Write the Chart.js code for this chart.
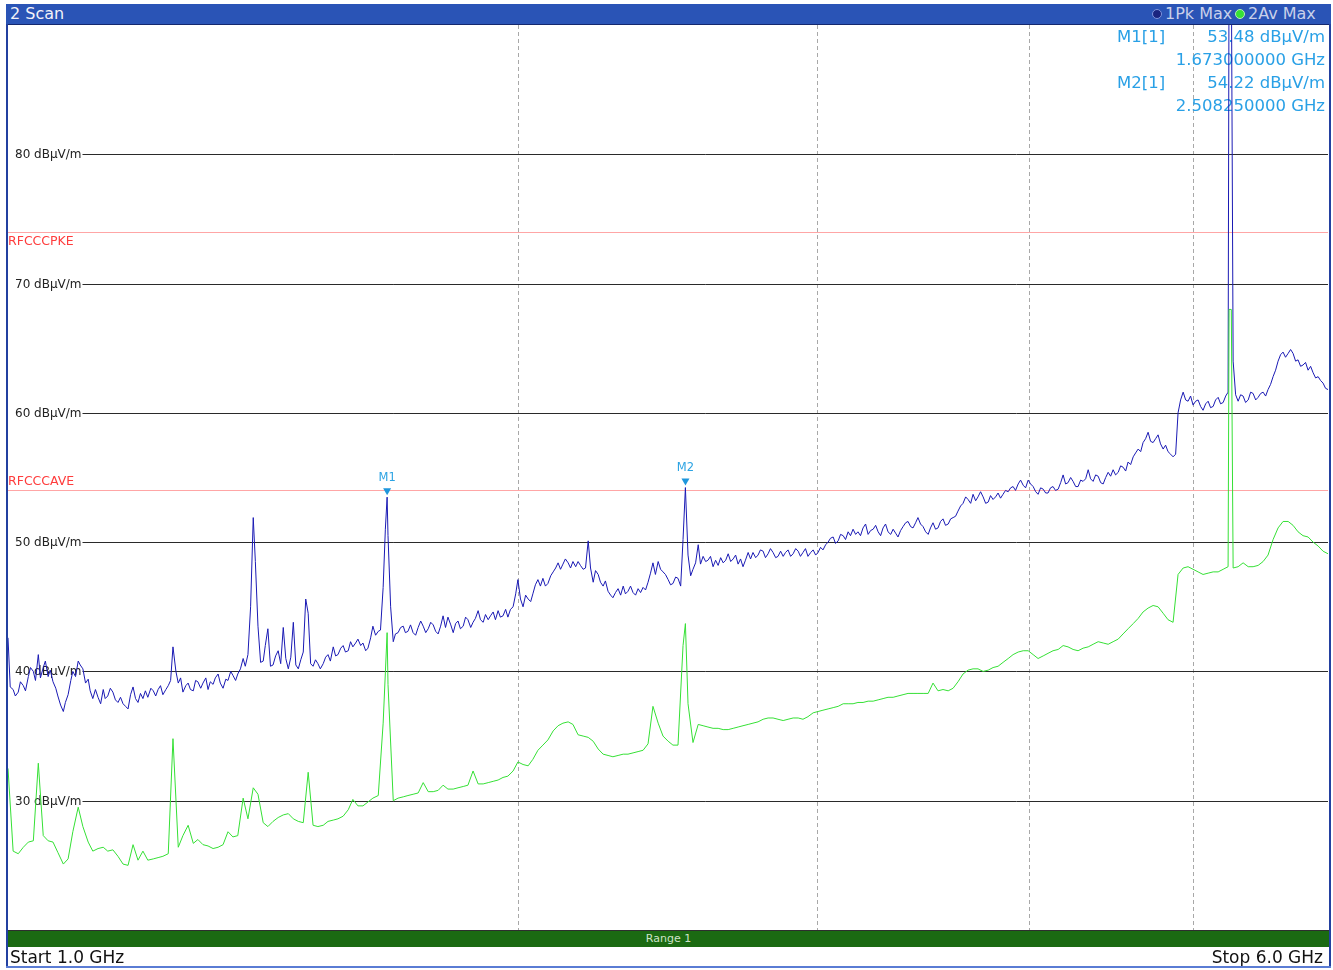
<!DOCTYPE html>
<html>
<head>
<meta charset="utf-8">
<title>2 Scan</title>
<script src="https://cdn.jsdelivr.net/npm/chart.js@4.4.1/dist/chart.umd.min.js"></script>
<style>
  body { margin: 0; width: 1333px; height: 970px; position: relative; overflow: hidden; background: #fff;
         font-family: "DejaVu Sans", Verdana, sans-serif; }
  .abs { position: absolute; }
  #header { left: 6px; top: 4px; width: 1325px; height: 20px; background: #2a54b6; border-bottom: 1px solid #14286e; }
  .hdrText { top: 4px; height: 20px; line-height: 20px; white-space: nowrap; font-size: 16px; }
  .dot { top: 9px; width: 8px; height: 8px; border-radius: 50%; }
  #rangeBar { left: 8px; top: 930px; width: 1321px; height: 16px; background: #1b6a12; border-top: 1px solid #2e2e2e;
              color: #cfe3c9; font-size: 11px; line-height: 16px; text-align: center; }
  .foot { top: 948px; line-height: 18px; font-size: 17px; color: #111; white-space: nowrap; }
</style>
</head>
<body>
<canvas id="scanChart" class="abs" width="1333" height="970" style="left:0;top:0"></canvas>

<div class="abs" id="header"></div>
<div class="abs hdrText" style="left:10px;color:#f2f2f8">2 Scan</div>
<div class="abs dot" style="left:1152px;background:#1a2480;border:1px solid #7f95dd"></div>
<div class="abs hdrText" style="left:1165px;color:#c9d0ea">1Pk Max</div>
<div class="abs dot" style="left:1235px;background:#36e036;border:1px solid #b8eeb8"></div>
<div class="abs hdrText" style="left:1248px;color:#c9d0ea">2Av Max</div>

<div class="abs" style="left:6px;top:24px;width:2px;height:944px;background:#2340a0"></div>
<div class="abs" style="left:1329px;top:24px;width:2px;height:944px;background:#2340a0"></div>
<div class="abs" id="rangeBar">Range 1</div>
<div class="abs foot" style="left:10px">Start 1.0 GHz</div>
<div class="abs foot" style="right:10px">Stop 6.0 GHz</div>
<div class="abs" style="left:6px;top:966px;width:1325px;height:2px;background:#5a7cd4"></div>

<script>
// trace 1 (1Pk Max): sweep points in GHz and levels in dBuV/m
const pkFreqGHz = [
  1.000, 1.003, 1.007, 1.010, 1.014, 1.017, 1.021, 1.024, 1.028, 1.031, 1.035, 1.038, 1.042, 1.045, 1.049, 1.052, 1.056, 1.059, 1.063, 1.067,
  1.070, 1.074, 1.078, 1.081, 1.085, 1.089, 1.092, 1.096, 1.100, 1.103, 1.107, 1.111, 1.115, 1.118, 1.122, 1.126, 1.130, 1.134, 1.138, 1.141,
  1.145, 1.149, 1.153, 1.157, 1.161, 1.165, 1.169, 1.173, 1.177, 1.181, 1.185, 1.189, 1.193, 1.197, 1.201, 1.205, 1.209, 1.214, 1.218, 1.222,
  1.226, 1.230, 1.234, 1.239, 1.243, 1.247, 1.251, 1.256, 1.260, 1.264, 1.268, 1.273, 1.277, 1.281, 1.286, 1.290, 1.294, 1.299, 1.303, 1.308,
  1.312, 1.316, 1.321, 1.325, 1.330, 1.334, 1.339, 1.344, 1.348, 1.353, 1.357, 1.362, 1.366, 1.371, 1.376, 1.380, 1.385, 1.390, 1.395, 1.399,
  1.404, 1.409, 1.414, 1.418, 1.423, 1.428, 1.433, 1.438, 1.443, 1.448, 1.453, 1.458, 1.463, 1.468, 1.473, 1.478, 1.483, 1.488, 1.493, 1.498,
  1.503, 1.508, 1.513, 1.518, 1.523, 1.528, 1.534, 1.539, 1.544, 1.549, 1.555, 1.560, 1.565, 1.571, 1.576, 1.581, 1.587, 1.592, 1.597, 1.603,
  1.608, 1.614, 1.619, 1.625, 1.630, 1.636, 1.641, 1.647, 1.653, 1.658, 1.664, 1.669, 1.673, 1.675, 1.681, 1.687, 1.692, 1.698, 1.704, 1.710, 1.715,
  1.721, 1.727, 1.733, 1.739, 1.745, 1.751, 1.757, 1.763, 1.769, 1.775, 1.781, 1.787, 1.793, 1.799, 1.805, 1.811, 1.817, 1.824, 1.830, 1.836,
  1.842, 1.848, 1.855, 1.861, 1.867, 1.874, 1.880, 1.886, 1.893, 1.899, 1.906, 1.912, 1.919, 1.925, 1.932, 1.938, 1.945, 1.951, 1.958, 1.965,
  1.971, 1.978, 1.985, 1.992, 1.998, 2.005, 2.012, 2.019, 2.026, 2.033, 2.039, 2.046, 2.053, 2.060, 2.067, 2.074, 2.081, 2.089, 2.096, 2.103,
  2.110, 2.117, 2.124, 2.131, 2.139, 2.146, 2.153, 2.161, 2.168, 2.175, 2.183, 2.190, 2.198, 2.205, 2.213, 2.220, 2.228, 2.235, 2.243, 2.250,
  2.258, 2.266, 2.273, 2.281, 2.289, 2.297, 2.305, 2.312, 2.320, 2.328, 2.336, 2.344, 2.352, 2.360, 2.368, 2.376, 2.384, 2.392, 2.400, 2.408,
  2.417, 2.425, 2.433, 2.441, 2.450, 2.458, 2.466, 2.475, 2.483, 2.492, 2.500, 2.508, 2.517, 2.526, 2.534, 2.543, 2.552, 2.560, 2.569, 2.578,
  2.586, 2.595, 2.604, 2.613, 2.622, 2.631, 2.640, 2.649, 2.658, 2.667, 2.676, 2.685, 2.694, 2.703, 2.712, 2.721, 2.731, 2.740, 2.749, 2.759,
  2.768, 2.777, 2.787, 2.796, 2.806, 2.815, 2.825, 2.835, 2.844, 2.854, 2.864, 2.873, 2.883, 2.893, 2.903, 2.913, 2.923, 2.932, 2.942, 2.952,
  2.962, 2.973, 2.983, 2.993, 3.003, 3.013, 3.023, 3.034, 3.044, 3.054, 3.065, 3.075, 3.086, 3.096, 3.107, 3.117, 3.128, 3.138, 3.149, 3.160,
  3.170, 3.181, 3.192, 3.203, 3.214, 3.225, 3.236, 3.247, 3.258, 3.269, 3.280, 3.291, 3.302, 3.314, 3.325, 3.336, 3.347, 3.359, 3.370, 3.382,
  3.393, 3.405, 3.416, 3.428, 3.439, 3.451, 3.463, 3.475, 3.487, 3.498, 3.510, 3.522, 3.534, 3.546, 3.558, 3.570, 3.583, 3.595, 3.607, 3.619,
  3.631, 3.644, 3.656, 3.669, 3.681, 3.694, 3.706, 3.719, 3.731, 3.744, 3.757, 3.770, 3.783, 3.795, 3.808, 3.821, 3.834, 3.847, 3.860, 3.873,
  3.887, 3.900, 3.913, 3.926, 3.940, 3.953, 3.967, 3.980, 3.994, 4.007, 4.021, 4.035, 4.048, 4.062, 4.076, 4.090, 4.103, 4.117, 4.131, 4.145,
  4.160, 4.174, 4.188, 4.202, 4.216, 4.231, 4.245, 4.260, 4.274, 4.289, 4.303, 4.318, 4.333, 4.347, 4.362, 4.377, 4.392, 4.407, 4.422, 4.437,
  4.452, 4.467, 4.482, 4.497, 4.513, 4.528, 4.543, 4.559, 4.574, 4.590, 4.606, 4.621, 4.637, 4.653, 4.668, 4.684, 4.700, 4.716, 4.732, 4.748,
  4.764, 4.780, 4.797, 4.813, 4.829, 4.846, 4.862, 4.879, 4.895, 4.912, 4.929, 4.946, 4.962, 4.979, 4.996, 5.013, 5.030, 5.047, 5.064, 5.082,
  5.099, 5.116, 5.134, 5.151, 5.169, 5.186, 5.204, 5.222, 5.239, 5.246, 5.262, 5.275, 5.293, 5.311, 5.329, 5.347, 5.365, 5.384, 5.402, 5.420, 5.439,
  5.457, 5.476, 5.494, 5.513, 5.531, 5.550, 5.569, 5.588, 5.607, 5.626, 5.645, 5.664, 5.684, 5.703, 5.722, 5.742, 5.761, 5.781, 5.800, 5.820,
  5.840, 5.860, 5.880, 5.900, 5.920, 5.940, 5.960, 5.980, 6.000
];
const pkMax = [
  42.6, 38.8, 38.6, 38.1, 38.4, 39.2, 38.9, 38.5, 39.6, 40.3, 40.0, 39.3, 41.3, 39.5, 40.3, 40.8, 39.6, 40.1, 39.2, 38.7,
  38.1, 37.4, 36.9, 37.6, 38.2, 39.3, 40.0, 39.6, 40.8, 40.5, 40.2, 39.1, 39.4, 38.5, 37.9, 38.6, 38.0, 37.5, 38.6, 37.9,
  38.1, 38.7, 38.4, 37.8, 37.6, 38.0, 37.5, 37.3, 37.1, 38.2, 38.8, 37.9, 37.6, 38.3, 37.9, 38.5, 38.0, 38.7, 38.5, 38.1,
  38.6, 38.9, 38.2, 38.6, 38.9, 39.3, 41.9, 40.0, 39.1, 39.5, 38.4, 38.9, 39.1, 38.6, 38.5, 39.3, 39.2, 38.7, 39.1, 39.5,
  38.6, 39.2, 39.0, 39.5, 39.8, 39.1, 38.7, 39.4, 39.3, 40.0, 39.7, 39.3, 39.8, 40.2, 41.0, 40.4, 41.3, 45.0, 51.9, 48.5,
  43.5, 40.7, 40.8, 42.0, 43.3, 40.4, 40.5, 41.2, 41.6, 40.6, 43.4, 41.0, 40.2, 41.1, 43.8, 40.5, 40.2, 40.9, 41.5, 45.6,
  44.5, 40.6, 40.4, 40.9, 40.6, 40.2, 40.6, 41.1, 41.3, 40.8, 41.9, 41.2, 41.3, 41.8, 42.0, 41.5, 41.6, 42.3, 41.9, 42.2,
  42.5, 42.0, 42.2, 41.6, 41.8, 42.6, 43.5, 42.8, 43.1, 43.2, 46.5, 51.0, 53.48, 50.5, 45.0, 42.3, 42.9, 43.0, 43.4, 43.5, 43.0,
  43.1, 43.6, 43.0, 42.8, 43.4, 43.9, 43.5, 43.0, 43.3, 43.8, 43.6, 43.1, 42.9, 43.5, 44.3, 43.4, 44.2, 43.6, 43.0, 43.7,
  43.9, 43.3, 43.5, 44.2, 44.0, 43.4, 43.8, 44.1, 44.7, 44.0, 43.8, 44.4, 44.0, 44.3, 44.6, 44.0, 44.7, 44.2, 44.3, 44.8,
  44.2, 44.8, 45.0, 46.0, 47.1, 45.6, 45.0, 45.9, 45.6, 45.4, 46.0, 46.7, 47.1, 46.6, 47.2, 46.6, 46.8, 47.4, 47.7, 48.0,
  48.4, 47.9, 48.3, 48.7, 48.4, 48.0, 48.5, 48.1, 48.5, 48.2, 47.9, 48.0, 50.1, 48.0, 46.9, 47.8, 47.5, 46.9, 46.6, 47.0,
  46.2, 45.9, 45.7, 46.1, 46.4, 45.9, 46.6, 46.0, 46.2, 46.6, 46.1, 45.9, 46.4, 46.1, 46.5, 46.3, 46.9, 47.6, 48.4, 47.5,
  48.5, 47.9, 47.7, 47.5, 47.1, 46.7, 46.8, 47.3, 47.2, 46.6, 50.2, 54.22, 49.0, 47.4, 47.9, 48.4, 49.8, 48.3, 48.9, 48.5,
  48.6, 48.9, 48.1, 48.6, 48.2, 48.8, 48.4, 48.6, 49.1, 48.5, 48.7, 49.0, 48.3, 48.7, 48.1, 48.6, 49.2, 48.7, 49.2, 48.8,
  49.0, 49.4, 49.3, 48.8, 49.1, 49.5, 49.2, 48.8, 48.9, 49.3, 48.9, 49.2, 49.4, 48.9, 49.1, 49.5, 49.3, 48.9, 49.2, 49.5,
  48.9, 49.2, 49.4, 49.0, 49.2, 49.6, 49.4, 49.8, 50.0, 50.3, 50.4, 49.9, 50.1, 50.6, 50.5, 50.2, 50.8, 50.5, 51.0, 50.6,
  50.8, 50.5, 51.1, 51.4, 50.6, 50.9, 51.0, 51.3, 50.8, 50.5, 51.1, 51.4, 50.8, 50.6, 51.0, 50.7, 50.4, 50.9, 51.2, 51.5,
  51.6, 51.2, 51.1, 51.5, 51.9, 51.4, 51.2, 50.8, 50.6, 51.1, 51.5, 51.0, 51.1, 51.6, 51.8, 51.3, 51.4, 51.8, 51.9, 52.0,
  52.4, 52.8, 53.0, 53.5, 53.3, 53.0, 53.7, 53.2, 53.5, 53.9, 53.5, 53.0, 53.1, 53.6, 53.3, 53.5, 53.8, 53.4, 53.7, 54.0,
  53.9, 54.2, 54.3, 54.0, 54.5, 54.8, 54.4, 54.2, 54.8, 54.5, 54.3, 53.9, 53.7, 54.2, 54.1, 53.8, 53.8, 54.2, 54.3, 54.0,
  54.1, 54.6, 55.2, 54.5, 54.6, 55.0, 54.7, 54.3, 54.3, 54.8, 54.7, 54.9, 55.6, 54.9, 54.7, 55.2, 55.1, 54.6, 54.5, 55.0,
  55.4, 55.1, 55.6, 55.2, 55.4, 55.9, 55.8, 55.5, 56.2, 56.0, 56.6, 56.9, 57.2, 57.0, 57.7, 58.0, 58.5, 57.8, 57.7, 58.0,
  58.3, 57.6, 57.2, 57.5, 57.0, 56.8, 56.6, 56.8, 60.0, 61.0, 61.6, 61.0, 60.9, 61.3, 60.6, 60.9, 61.0, 60.5, 60.2, 60.7,
  60.9, 60.4, 60.5, 61.0, 61.2, 60.7, 60.8, 61.3, 61.6, 95.0, 95.0, 64.0, 61.4, 60.9, 61.4, 61.3, 60.8, 61.0, 61.6, 61.5, 61.0,
  61.2, 61.5, 61.6, 61.3, 61.8, 62.2, 62.8, 63.3, 64.0, 64.5, 64.7, 64.3, 64.6, 64.9, 64.6, 64.0, 64.1, 63.6, 63.7, 63.9,
  63.3, 63.6, 63.1, 62.7, 62.8, 62.5, 62.3, 61.9, 61.8
];

// trace 2 (2Av Max): sweep points in GHz and levels in dBuV/m
const avFreqGHz = [
  1.000, 1.007, 1.014, 1.021, 1.028, 1.035, 1.042, 1.049, 1.056, 1.063,
  1.070, 1.078, 1.085, 1.092, 1.100, 1.107, 1.115, 1.122, 1.130, 1.138,
  1.145, 1.153, 1.161, 1.169, 1.177, 1.185, 1.193, 1.201, 1.209, 1.218,
  1.226, 1.234, 1.243, 1.251, 1.260, 1.268, 1.277, 1.286, 1.294, 1.303,
  1.312, 1.321, 1.330, 1.339, 1.348, 1.357, 1.366, 1.376, 1.385, 1.395,
  1.404, 1.414, 1.423, 1.433, 1.443, 1.453, 1.463, 1.473, 1.483, 1.493,
  1.503, 1.513, 1.523, 1.534, 1.544, 1.555, 1.565, 1.576, 1.587, 1.597,
  1.608, 1.619, 1.630, 1.641, 1.653, 1.664, 1.673, 1.675, 1.687, 1.698, 1.710,
  1.721, 1.733, 1.745, 1.757, 1.769, 1.781, 1.793, 1.805, 1.817, 1.830,
  1.842, 1.855, 1.867, 1.880, 1.893, 1.906, 1.919, 1.932, 1.945, 1.958,
  1.971, 1.985, 1.998, 2.012, 2.026, 2.039, 2.053, 2.067, 2.081, 2.096,
  2.110, 2.124, 2.139, 2.153, 2.168, 2.183, 2.198, 2.213, 2.228, 2.243,
  2.258, 2.273, 2.289, 2.305, 2.320, 2.336, 2.352, 2.368, 2.384, 2.400,
  2.417, 2.433, 2.450, 2.466, 2.483, 2.500, 2.508, 2.517, 2.534, 2.552, 2.569,
  2.586, 2.604, 2.622, 2.640, 2.658, 2.676, 2.694, 2.712, 2.731, 2.749,
  2.768, 2.787, 2.806, 2.825, 2.844, 2.864, 2.883, 2.903, 2.923, 2.942,
  2.962, 2.983, 3.003, 3.023, 3.044, 3.065, 3.086, 3.107, 3.128, 3.149,
  3.170, 3.192, 3.214, 3.236, 3.258, 3.280, 3.302, 3.325, 3.347, 3.370,
  3.393, 3.416, 3.439, 3.463, 3.487, 3.510, 3.534, 3.558, 3.583, 3.607,
  3.631, 3.656, 3.681, 3.706, 3.731, 3.757, 3.783, 3.808, 3.834, 3.860,
  3.887, 3.913, 3.940, 3.967, 3.994, 4.021, 4.048, 4.076, 4.103, 4.131,
  4.160, 4.188, 4.216, 4.245, 4.274, 4.303, 4.333, 4.362, 4.392, 4.422,
  4.452, 4.482, 4.513, 4.543, 4.574, 4.606, 4.637, 4.668, 4.700, 4.732,
  4.764, 4.797, 4.829, 4.862, 4.895, 4.929, 4.962, 4.996, 5.030, 5.064,
  5.099, 5.134, 5.169, 5.204, 5.239, 5.246, 5.262, 5.275, 5.311, 5.347, 5.384, 5.420,
  5.457, 5.494, 5.531, 5.569, 5.607, 5.645, 5.684, 5.722, 5.761, 5.800,
  5.840, 5.880, 5.920, 5.960, 6.000
];
const avMax = [
  32.5, 26.1, 25.9, 26.4, 26.8, 26.9, 32.9, 27.3, 26.9, 26.8,
  26.0, 25.1, 25.5, 27.6, 29.5, 28.0, 26.8, 26.1, 26.3, 26.4,
  26.1, 26.2, 25.7, 25.1, 25.0, 26.6, 25.4, 26.1, 25.4, 25.5,
  25.6, 25.7, 25.9, 34.8, 26.4, 27.3, 28.1, 26.7, 27.0, 26.6,
  26.5, 26.3, 26.4, 26.6, 27.6, 27.2, 27.3, 30.2, 28.6, 31.0,
  30.5, 28.3, 28.0, 28.4, 28.7, 28.9, 29.0, 28.6, 28.4, 28.3,
  32.2, 28.1, 28.0, 28.1, 28.4, 28.5, 28.6, 28.8, 29.3, 30.1,
  29.6, 29.6, 29.9, 30.2, 30.4, 36.0, 43.0, 39.0, 30.0, 30.2, 30.3,
  30.4, 30.5, 30.6, 31.4, 30.7, 30.7, 30.8, 31.2, 30.9, 30.9,
  31.0, 31.1, 31.2, 32.3, 31.3, 31.3, 31.4, 31.5, 31.6, 31.8,
  31.9, 32.3, 33.0, 32.8, 32.7, 33.2, 33.9, 34.3, 34.7, 35.4,
  35.8, 36.0, 36.1, 35.9, 35.1, 35.0, 34.9, 34.6, 34.0, 33.6,
  33.5, 33.4, 33.5, 33.6, 33.6, 33.7, 33.8, 33.9, 34.4, 37.3,
  36.0, 35.0, 34.6, 34.3, 34.3, 42.0, 43.7, 37.5, 34.5, 35.9, 35.8,
  35.7, 35.6, 35.6, 35.5, 35.5, 35.6, 35.7, 35.8, 35.9, 36.0,
  36.1, 36.3, 36.4, 36.4, 36.3, 36.2, 36.3, 36.4, 36.4, 36.3,
  36.5, 36.8, 36.9, 37.0, 37.1, 37.2, 37.3, 37.5, 37.5, 37.5,
  37.6, 37.6, 37.7, 37.7, 37.8, 37.9, 38.0, 38.0, 38.1, 38.2,
  38.3, 38.3, 38.3, 38.3, 38.3, 39.1, 38.5, 38.6, 38.5, 38.7,
  39.2, 39.8, 40.1, 40.2, 40.2, 40.0, 40.1, 40.3, 40.4, 40.7,
  41.0, 41.3, 41.5, 41.6, 41.6, 41.3, 41.0, 41.2, 41.4, 41.6,
  41.7, 42.0, 41.9, 41.7, 41.6, 41.8, 41.9, 42.1, 42.3, 42.2,
  42.1, 42.3, 42.5, 42.9, 43.3, 43.7, 44.1, 44.6, 44.9, 45.1,
  45.0, 44.5, 44.0, 43.8, 47.5, 48.0, 48.1, 47.9, 47.7, 47.5,
  47.6, 47.7, 47.7, 47.9, 48.1, 68.0, 68.0, 48.0, 48.1, 48.4, 48.1, 48.1,
  48.2, 48.5, 49.0, 50.2, 51.1, 51.6, 51.6, 51.3, 50.8, 50.5,
  50.4, 50.0, 49.7, 49.3, 49.1
];

// axis ticks
const freqGrid = [2, 3, 4, 5];               // GHz, dashed lines
const levelTicks = [30, 40, 50, 60, 70, 80]; // dBuV/m, labelled lines

// limit lines
const limitNames = ['RFCCCPKE', 'RFCCCAVE'];
const limitLevels = [74, 54];

// markers (on trace 1)
const markerNames = ['M1', 'M2'];
const markerFreq = [1.673, 2.50825];
const markerLevel = [53.48, 54.22];

const overlay = {
  id: 'overlay',
  beforeDatasetsDraw(chart) {
    const { ctx, chartArea: a, scales: { y } } = chart;
    ctx.save();
    ctx.textBaseline = 'middle';

    // level lines with their labels
    ctx.font = '12px "DejaVu Sans"';
    ctx.lineWidth = 1;
    levelTicks.forEach(v => {
      const py = Math.round(y.getPixelForValue(v)) + 0.5;
      const label = v + ' dBµV/m';
      const w = ctx.measureText(label).width;
      ctx.fillStyle = '#222';
      ctx.fillText(label, a.left + 7, py);
      ctx.strokeStyle = '#2a2a2a';
      ctx.beginPath();
      ctx.moveTo(a.left + 8 + w, py);
      ctx.lineTo(a.right, py);
      ctx.stroke();
    });

    // limit lines: first label below its line, second above
    ctx.font = '12.5px "DejaVu Sans"';
    limitLevels.forEach((v, i) => {
      const py = Math.round(y.getPixelForValue(v)) + 0.5;
      ctx.strokeStyle = '#ffa6a6';
      ctx.beginPath();
      ctx.moveTo(a.left, py);
      ctx.lineTo(a.right, py);
      ctx.stroke();
      ctx.fillStyle = '#ff3c3c';
      ctx.fillText(limitNames[i], a.left, py + (i === 0 ? 9 : -9));
    });

    // marker table, top right
    ctx.font = '16.5px "DejaVu Sans"';
    ctx.fillStyle = '#29a0e6';
    markerNames.forEach((m, i) => {
      const row = a.top + 13 + i * 45.5;
      ctx.textAlign = 'left';
      ctx.fillText(m + '[1]', a.right - 211, row);
      ctx.textAlign = 'right';
      ctx.fillText(markerLevel[i].toFixed(2) + ' dBµV/m', a.right - 3, row);
      ctx.fillText(markerFreq[i].toFixed(9) + ' GHz', a.right - 3, row + 23);
    });
    ctx.restore();
  },
  afterDatasetsDraw(chart) {
    const { ctx, scales: { x, y } } = chart;
    ctx.save();
    ctx.font = '11.5px "DejaVu Sans"';
    ctx.textAlign = 'center';
    ctx.textBaseline = 'middle';
    markerNames.forEach((m, i) => {
      const px = x.getPixelForValue(markerFreq[i]);
      const py = y.getPixelForValue(markerLevel[i]);
      ctx.fillStyle = '#1e96dc';
      ctx.beginPath();
      ctx.moveTo(px - 4, py - 9);
      ctx.lineTo(px + 4, py - 9);
      ctx.lineTo(px, py - 2);
      ctx.closePath();
      ctx.fill();
      ctx.fillStyle = '#2ba3e3';
      ctx.fillText(m, px, py - 19.5);
    });
    ctx.restore();
  }
};

const scanCtx = document.getElementById('scanChart').getContext('2d');

const scanChart = new Chart(scanCtx, {
  type: 'line',
  data: {
    datasets: [{
      label: '2Av Max',
      data: avFreqGHz.map((f, i) => ({ x: f, y: avMax[i] })),
      borderColor: '#35e035',
      borderWidth: 1,
      pointRadius: 0,
      tension: 0,
      order: 0
    }, {
      label: '1Pk Max',
      data: pkFreqGHz.map((f, i) => ({ x: f, y: pkMax[i] })),
      borderColor: '#1a1ab4',
      borderWidth: 1,
      pointRadius: 0,
      tension: 0,
      order: 1
    }]
  },
  options: {
    responsive: false,
    animation: false,
    devicePixelRatio: 1,
    layout: { padding: { left: 8, top: 25, right: 5, bottom: 40 } },
    plugins: { legend: { display: false }, tooltip: { enabled: false } },
    scales: {
      x: {
        type: 'logarithmic',
        min: 1,
        max: 6,
        afterBuildTicks: s => { s.ticks = freqGrid.map(v => ({ value: v })); },
        ticks: { display: false },
        grid: { color: '#a8a8a8', lineWidth: 1, drawTicks: false },
        border: { display: false, dash: [4, 3] }
      },
      y: {
        type: 'linear',
        min: 20,
        max: 90,
        display: false
      }
    }
  },
  plugins: [overlay]
});
</script>
</body>
</html>
